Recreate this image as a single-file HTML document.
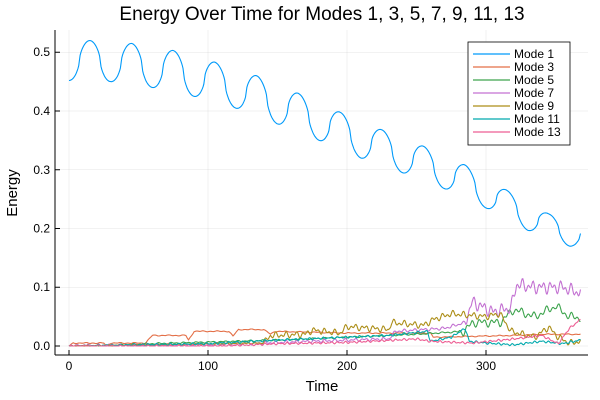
<!DOCTYPE html>
<html><head><meta charset="utf-8"><style>
body{margin:0;background:#fff}
svg{display:block;font-family:"Liberation Sans","DejaVu Sans",sans-serif}
</style></head><body>
<svg id="s" width="600" height="400" viewBox="0 0 600 400">
<rect width="600" height="400" fill="#fff"/>
<g stroke="#000" stroke-opacity="0.1" stroke-width="0.5">
<line x1="69" y1="30" x2="69" y2="355"/><line x1="208" y1="30" x2="208" y2="355"/>
<line x1="347" y1="30" x2="347" y2="355"/><line x1="486" y1="30" x2="486" y2="355"/>
<line x1="55" y1="346" x2="588" y2="346"/><line x1="55" y1="287.25" x2="588" y2="287.25"/>
<line x1="55" y1="228.5" x2="588" y2="228.5"/><line x1="55" y1="169.75" x2="588" y2="169.75"/>
<line x1="55" y1="111" x2="588" y2="111"/><line x1="55" y1="52.25" x2="588" y2="52.25"/>
</g>
<g id="lines" fill="none" stroke-width="1.1"></g>
<g stroke="#000" stroke-width="1">
<line x1="55" y1="355" x2="588" y2="355"/><line x1="55" y1="30" x2="55" y2="355"/>
<line x1="69" y1="355" x2="69" y2="350"/><line x1="208" y1="355" x2="208" y2="350"/>
<line x1="347" y1="355" x2="347" y2="350"/><line x1="486" y1="355" x2="486" y2="350"/>
<line x1="55" y1="346" x2="60" y2="346"/><line x1="55" y1="287.25" x2="60" y2="287.25"/>
<line x1="55" y1="228.5" x2="60" y2="228.5"/><line x1="55" y1="169.75" x2="60" y2="169.75"/>
<line x1="55" y1="111" x2="60" y2="111"/><line x1="55" y1="52.25" x2="60" y2="52.25"/>
</g>
<g font-size="12" fill="#000" text-anchor="middle">
<text x="69" y="370">0</text><text x="208" y="370">100</text><text x="347" y="370">200</text><text x="486" y="370">300</text>
</g>
<g font-size="12" fill="#000" text-anchor="end">
<text x="50" y="350">0.0</text><text x="50" y="291">0.1</text><text x="50" y="232.5">0.2</text>
<text x="50" y="174">0.3</text><text x="50" y="115">0.4</text><text x="50" y="56">0.5</text>
</g>
<text x="322" y="391" font-size="15" text-anchor="middle">Time</text>
<text x="17" y="193" font-size="15" text-anchor="middle" transform="rotate(-90 17 193)">Energy</text>
<text x="322" y="20" font-size="19" text-anchor="middle">Energy Over Time for Modes 1, 3, 5, 7, 9, 11, 13</text>
<rect x="468" y="42" width="102" height="103" fill="#fff" stroke="#000" stroke-width="0.8"/>
<g stroke-width="1.2">
<line x1="473" y1="54" x2="510" y2="54" stroke="#009AFA"/>
<line x1="473" y1="67" x2="510" y2="67" stroke="#E36F47"/>
<line x1="473" y1="80" x2="510" y2="80" stroke="#3EA44E"/>
<line x1="473" y1="93" x2="510" y2="93" stroke="#C371D2"/>
<line x1="473" y1="106" x2="510" y2="106" stroke="#AC8E18"/>
<line x1="473" y1="119" x2="510" y2="119" stroke="#00A9AD"/>
<line x1="473" y1="132" x2="510" y2="132" stroke="#ED5E93"/>
</g>
<g font-size="12" fill="#000">
<text x="514" y="58">Mode 1</text><text x="514" y="71">Mode 3</text><text x="514" y="84">Mode 5</text>
<text x="514" y="97">Mode 7</text><text x="514" y="110">Mode 9</text><text x="514" y="123">Mode 11</text>
<text x="514" y="136">Mode 13</text>
</g>
</svg>
<script>
function X(t){return 69+t*1.39;}
function Y(v){return 346-v*587.5;}
function interp(pts,t){
 if(t<=pts[0][0])return pts[0][1];
 for(var i=1;i<pts.length;i++){if(t<=pts[i][0]){var a=pts[i-1],b=pts[i];return a[1]+(b[1]-a[1])*(t-a[0])/(b[0]-a[0]);}}
 return pts[pts.length-1][1];
}
var g=document.getElementById('lines');
function add(col,f){
 var d='';for(var t=0;t<=368;t+=0.5){d+=(t?'L':'M')+X(t).toFixed(1)+' '+Y(f(t)).toFixed(1);}
 var p=document.createElementNS('http://www.w3.org/2000/svg','path');
 p.setAttribute('d',d);p.setAttribute('stroke',col);g.appendChild(p);
}
var peaks=[[-15,.52],[15,.52],[45,.515],[75,.503],[105,.483],[135,.46],[165,.43],[195,.398],[225,.368],[255,.34],[285,.308],[315,.265],[345,.225],[375,.2]];
var troughs=[[0,.452],[30,.45],[60,.44],[90,.425],[120,.405],[150,.378],[180,.35],[210,.32],[240,.295],[270,.268],[300,.235],[330,.197],[360,.17],[390,.16]];
add('#009AFA',function(t){
 var p=interp(peaks,t),q=interp(troughs,t);var c=(p+q)/2,a=(p-q)/2;
 var s=Math.cos(2*Math.PI*(t-15)/30);var f=(s>=0?1:-1)*Math.pow(Math.abs(s),0.6);
 return c+a*f;});
function steps(pts,amp,per){return function(t){var b=interp(pts,t);var w=amp(t)*Math.sin(2*Math.PI*t/per)*Math.sin(t*0.37);return Math.max(0,b+w);};}
add('#E36F47',steps([[0,0],[3,.005],[25,.005],[27,0],[30,.005],[55,.005],[60,.018],[84,.018],[86,.01],[90,.025],[115,.025],[118,.017],[122,.028],[140,.028],[145,.02],[148,.025],[200,.022],[260,.022],[262,.015],[320,.018],[340,.02],[368,.02]],function(t){return 0.001;},7));
add('#3EA44E',steps([[0,0],[20,0],[60,.004],[150,.01],[250,.02],[285,.025],[290,.04],[310,.04],[320,.062],[335,.05],[350,.068],[360,.05],[368,.048]],function(t){return t>280?0.008:0.0015;},6));
add('#C371D2',steps([[0,0],[100,.002],[200,.01],[230,.012],[235,.025],[270,.03],[285,.04],[290,.075],[305,.058],[318,.065],[322,.105],[335,.1],[345,.1],[355,.1],[368,.09]],function(t){return t>285?0.012:0.003;},5));
add('#AC8E18',steps([[0,0],[140,.005],[145,.018],[170,.02],[175,.027],[195,.022],[200,.033],[230,.028],[232,.04],[255,.035],[262,.045],[275,.055],[300,.05],[310,.055],[318,.025],[335,.015],[345,.032],[352,.015],[360,.005],[368,.008]],function(t){return t>140?0.006:0.001;},5));
add('#00A9AD',steps([[0,0],[100,.004],[150,.01],[200,.015],[230,.018],[258,.025],[260,.008],[275,.015],[285,.03],[288,.008],[300,.005],[320,.002],[340,.008],[355,.004],[368,.01]],function(t){return 0.002;},4));
add('#ED5E93',steps([[0,0],[110,0],[150,.004],[200,.006],[250,.012],[260,.008],[290,.005],[320,.012],[340,.018],[352,.004],[360,.03],[368,.045]],function(t){return 0.002;},4));
</script>
</body></html>
